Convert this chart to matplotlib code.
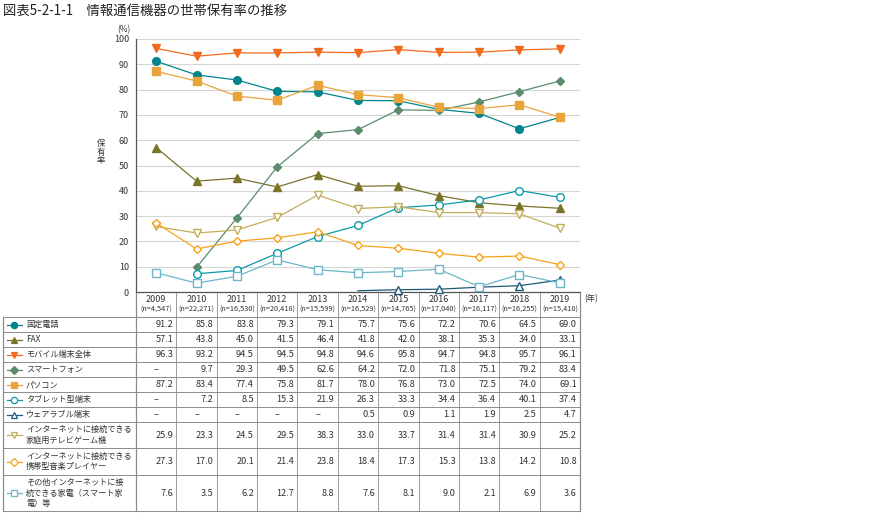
import matplotlib
matplotlib.use("Agg")
import matplotlib.pyplot as plt
from matplotlib.lines import Line2D
from matplotlib import transforms

plt.rcParams["font.family"] = ["Noto Sans CJK JP", "DejaVu Sans"]

years = ["2009", "2010", "2011", "2012", "2013", "2014", "2015", "2016", "2017", "2018", "2019"]
samples = ["4,547", "22,271", "16,530", "20,418", "15,599", "16,529", "14,765", "17,040", "16,117", "16,255", "15,410"]

fixed_phone = [91.2, 85.8, 83.8, 79.3, 79.1, 75.7, 75.6, 72.2, 70.6, 64.5, 69.0]
fax = [57.1, 43.8, 45.0, 41.5, 46.4, 41.8, 42.0, 38.1, 35.3, 34.0, 33.1]
mobile = [96.3, 93.2, 94.5, 94.5, 94.8, 94.6, 95.8, 94.7, 94.8, 95.7, 96.1]
smartphone = [None, 9.7, 29.3, 49.5, 62.6, 64.2, 72.0, 71.8, 75.1, 79.2, 83.4]
pc = [87.2, 83.4, 77.4, 75.8, 81.7, 78.0, 76.8, 73.0, 72.5, 74.0, 69.1]
tablet = [None, 7.2, 8.5, 15.3, 21.9, 26.3, 33.3, 34.4, 36.4, 40.1, 37.4]
wearable = [None, None, None, None, None, 0.5, 0.9, 1.1, 1.9, 2.5, 4.7]
game = [25.9, 23.3, 24.5, 29.5, 38.3, 33.0, 33.7, 31.4, 31.4, 30.9, 25.2]
music = [27.3, 17.0, 20.1, 21.4, 23.8, 18.4, 17.3, 15.3, 13.8, 14.2, 10.8]
appliance = [7.6, 3.5, 6.2, 12.7, 8.8, 7.6, 8.1, 9.0, 2.1, 6.9, 3.6]

labels = [
    "固定電話",
    "FAX",
    "モバイル端末全体",
    "スマートフォン",
    "パソコン",
    "タブレット型端末",
    "ウェアラブル端末",
    "インターネットに接続できる\n家庭用テレビゲーム機",
    "インターネットに接続できる\n携帯型音楽プレイヤー",
    "その他インターネットに接\n続できる家電（スマート家\n電）等",
]
series = [fixed_phone, fax, mobile, smartphone, pc, tablet, wearable, game, music, appliance]

# (colour, marker, filled)
styles = [
    ("#00858c", "o", True),
    ("#7a7328", "^", True),
    ("#f26a1e", "v", True),
    ("#5b8c6c", "D", True),
    ("#e9a43c", "s", True),
    ("#0b9aa8", "o", False),
    ("#1d5a78", "^", False),
    ("#c4ad5c", "v", False),
    ("#f8a21a", "D", False),
    ("#6cb6c9", "s", False),
]

W, H = 882, 516


def fx(px):
    return px / W


def fy(py):
    return 1 - py / H


fig = plt.figure(figsize=(W / 100, H / 100), dpi=100)
ax = fig.add_axes([fx(136), fy(292), (580 - 136) / W, (292 - 39) / H])

x = list(range(len(years)))
draw_order = [9, 8, 7, 6, 5, 1, 3, 4, 0, 2]
for i in draw_order:
    vals = series[i]
    color, marker, filled = styles[i]
    xs = [k for k, v in zip(x, vals) if v is not None]
    ys = [v for v in vals if v is not None]
    mark = list(range(1, len(xs))) if i == 6 else None
    ax.plot(xs, ys, color=color, lw=0.9, marker=marker,
            ms=5.5 if marker != "D" else 4.5,
            mfc=color if filled else "white", mec=color, mew=1.0,
            markevery=mark, zorder=3 + i * 0.01, clip_on=False)

ax.set_xlim(-0.5, len(years) - 0.5)
ax.set_ylim(0, 100)
ax.set_yticks(range(0, 101, 10))
ax.set_xticks([])
ax.tick_params(axis="y", length=0, labelsize=6.5, labelcolor="#333333", pad=5)
ax.grid(axis="y", color="#d6d6d6", lw=0.8)
ax.set_axisbelow(True)
ax.spines["top"].set_visible(False)
ax.spines["right"].set_visible(False)
for side in ("left", "bottom"):
    ax.spines[side].set_color("#555555")
    ax.spines[side].set_linewidth(0.9)

fig.text(fx(3), fy(11), "図表5-2-1-1　情報通信機器の世帯保有率の推移",
         fontsize=9.6, va="center", ha="left", color="#222222")
fig.text(fx(124), fy(30), "(%)", fontsize=6, ha="center", va="center", color="#333333")
fig.text(fx(101), fy(152), "保\n有\n率", fontsize=6, ha="center", va="center",
         linespacing=0.95, color="#333333")
fig.text(fx(584), fy(299), "(年)", fontsize=6, ha="left", va="center", color="#333333")

# table below the axis
col_tr = transforms.blended_transform_factory(ax.transData, fig.transFigure)
rows = [317, 332, 347, 362, 377, 392, 407, 422, 448, 475, 511]
grid_c = "#8c8c8c"

for k in range(len(years) + 1):
    lw = 0.9 if k in (0, len(years)) else 0.6
    fig.add_artist(Line2D([k - 0.5, k - 0.5], [fy(293), fy(rows[-1])],
                          transform=col_tr, color=grid_c, lw=lw))
for r in rows:
    fig.add_artist(Line2D([fx(3), fx(580)], [fy(r), fy(r)], color=grid_c, lw=0.7))
fig.add_artist(Line2D([fx(3), fx(3)], [fy(rows[0]), fy(rows[-1])], color=grid_c, lw=0.9))

for k, (yr, n) in enumerate(zip(years, samples)):
    fig.text(k, fy(299), yr, transform=col_tr, fontsize=6.5, ha="center", va="center", color="#333333")
    fig.text(k, fy(310), f"(n={n})", transform=col_tr, fontsize=5.3, ha="center", va="center",
             color="#333333")

for i, (lab, vals) in enumerate(zip(labels, series)):
    yc = fy((rows[i] + rows[i + 1]) / 2)
    color, marker, filled = styles[i]
    fig.add_artist(Line2D([fx(7), fx(14.5), fx(22)], [yc, yc, yc], color=color, lw=0.9,
                          marker=marker, markevery=[1], ms=4.5 if marker != "D" else 3.8,
                          mfc=color if filled else "white", mec=color, mew=0.9))
    fig.text(fx(26), yc, lab, fontsize=5.9, ha="left", va="center", linespacing=1.25,
             color="#333333")
    for k, v in enumerate(vals):
        if v is None:
            fig.text(k, yc, "–", transform=col_tr, fontsize=6.5, ha="center", va="center",
                     color="#333333")
        else:
            fig.text(k + 0.42, yc, f"{v:.1f}", transform=col_tr, fontsize=6.6, ha="right",
                     va="center", color="#333333")

fig.savefig("out.png", dpi=100)
